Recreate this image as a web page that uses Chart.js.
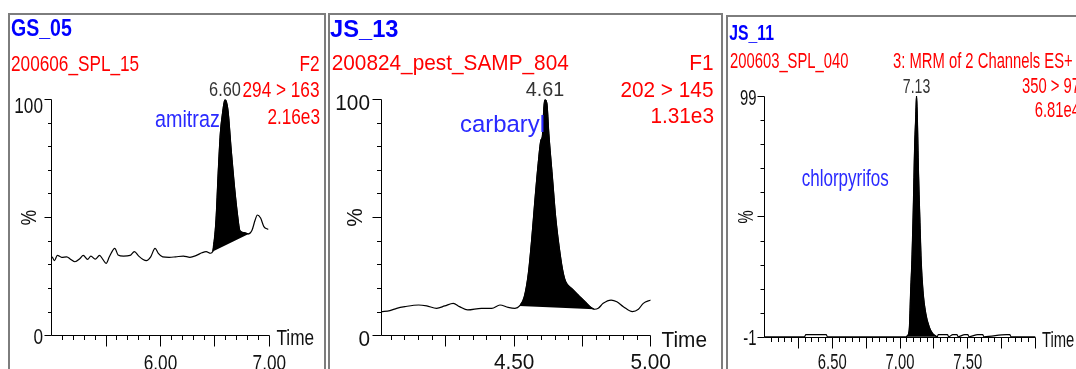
<!DOCTYPE html>
<html><head><meta charset="utf-8">
<script src="https://cdn.jsdelivr.net/npm/chart.js@4.4.1/dist/chart.umd.min.js"></script>
<style>
html,body{margin:0;padding:0;background:#fff;width:1076px;height:369px;overflow:hidden;}
#wrap{position:relative;width:1076px;height:369px;overflow:hidden;}
.box{position:absolute;border:2px solid #7d7d7d;box-sizing:border-box;}
canvas{position:absolute;left:0;top:0;}
</style></head><body>
<div id="wrap">
<div class="box" style="left:8px;top:13px;width:318px;height:420px"></div>
<div class="box" style="left:328px;top:13px;width:395px;height:420px"></div>
<div class="box" style="left:726px;top:15px;width:420px;height:420px"></div>
<canvas id="c1" width="1076" height="369"></canvas>
<canvas id="c2" width="1076" height="369"></canvas>
<canvas id="c3" width="1076" height="369"></canvas>
</div>
<script>
// ---------------- DATA ----------------
// Panel 1 : GS_05 / amitraz
const p1Time = [5.005,5.025,5.052,5.092,5.138,5.175,5.214,5.26,5.29,5.33,5.36,5.40,5.44,5.47,5.50,5.53,5.58,5.61,5.66,5.72,5.76,5.80,5.84,5.87,5.91,5.95,5.98,6.02,6.08,6.14,6.21,6.27,6.33,6.38,6.42,6.46,6.48,6.51,6.53,6.55,6.57,6.593,6.62,6.65,6.68,6.71,6.73,6.77,6.81,6.84,6.87,6.89,6.92,6.95,6.99];
const p1Int  = [33.4,31.8,34.0,33.2,33.4,32.3,31.3,32.7,34.0,32.3,33.7,32.4,34.0,32.3,30.6,33.4,37.0,34.2,33.7,34.0,35.6,33.7,32.3,31.8,33.4,37.0,34.9,33.4,33.2,33.4,33.7,33.2,34.0,35.1,35.6,34.9,35.6,49.0,68.8,85.7,94.2,100,95.5,78.6,63.1,50.4,44.5,43.6,43.1,44.5,49.0,51.1,49.8,46.2,45.0];
const p1PeakSpan = [6.48, 6.81];
const p1XTickLabels = ['6.00', '7.00'];
const p1YTickLabels = ['0', '100'];
const p1Texts = ['GS_05', '200606_SPL_15', 'F2', '294 > 163', '2.16e3'];
const p1Compound = 'amitraz';
const p1PeakLabel = '6.60';

// Panel 2 : JS_13 / carbaryl
const p2Time = [4.014,4.045,4.07,4.10,4.15,4.18,4.216,4.246,4.277,4.30,4.33,4.38,4.418,4.448,4.478,4.503,4.52,4.537,4.552,4.564,4.576,4.588,4.598,4.603,4.609,4.613,4.62,4.627,4.64,4.652,4.668,4.68,4.689,4.711,4.735,4.76,4.778,4.794,4.808,4.826,4.855,4.876,4.90,4.933,4.955,4.973,5.0];
const p2Int  = [10.2,10.6,11.6,12.3,13.0,12.6,11.6,12.6,13.7,12.3,10.9,11.6,11.6,13.0,12.0,11.6,12.6,16.5,26.4,40.5,57.4,72.9,82.8,84.2,96.9,100,98.3,85.6,67.3,50.3,34.9,26.4,22.8,20.0,17.2,14.4,12.3,11.2,11.6,13.7,15.1,14.4,12.3,10.2,11.2,13.7,15.1];
const p2PeakSpan = [4.52, 4.794];
const p2XTickLabels = ['4.50', '5.00'];
const p2YTickLabels = ['0', '100'];
const p2Texts = ['JS_13', '200824_pest_SAMP_804', 'F1', '202 > 145', '1.31e3'];
const p2Compound = 'carbaryl';
const p2PeakLabel = '4.61';

// Panel 3 : JS_11 / chlorpyrifos
const p3Time = [6.0,6.295,6.305,6.455,6.465,7.045,7.052,7.068,7.079,7.088,7.098,7.108,7.116,7.122,7.128,7.136,7.146,7.156,7.171,7.19,7.215,7.24,7.264,7.275,7.282,7.35,7.36,7.39,7.42,7.43,7.478,7.50,7.51,7.574,7.61,7.62,7.785,7.81,7.82,8.0];
const p3Int  = [-0.6,-0.6,0.3,0.3,-0.6,-0.6,-0.3,2.2,18.7,31.1,51.8,78,90,99,90,68.4,49,31.1,17.4,9.1,3.6,0.8,-0.3,-0.6,0.3,0.3,-0.6,0.3,0.3,-0.6,0.3,0.3,-0.6,0.3,0.3,-0.6,0.3,0.3,-0.6,-0.6];
const p3PeakSpan = [7.045, 7.275];
const p3XTickLabels = ['6.50', '7.00', '7.50'];
const p3YTickLabels = ['-1', '99'];
const p3Texts = ['JS_11', '200603_SPL_040', '3: MRM of 2 Channels ES+', '350 > 97', '6.81e4'];
const p3Compound = 'chlorpyrifos';
const p3PeakLabel = '7.13';

// ---------------- DRAWING ----------------
const RED = '#ff0000', BLUE = '#0000ff', BLUE2 = '#2a2aff', INK = '#111', GREY = '#333';
const SY = 1.06;
const FONT = '"Liberation Sans", Arial, sans-serif';

function drawText(ctx, s, x, y, size, color, opt) {
  opt = opt || {};
  ctx.save();
  ctx.translate(x, y);
  if (opt.rot) ctx.rotate(opt.rot);
  ctx.scale(opt.sx || 1, SY);
  ctx.font = (opt.bold ? 'bold ' : '') + size + 'px ' + FONT;
  ctx.fillStyle = color;
  ctx.textAlign = opt.align || 'left';
  ctx.textBaseline = opt.base || 'alphabetic';
  ctx.fillText(s, 0, 0);
  ctx.restore();
}

const msAxes = {
  id: 'msAxes',
  afterDraw(chart, args, o) {
    const ctx = chart.ctx, xs = chart.scales.x, ys = chart.scales.y, ca = chart.chartArea;
    const X = v => xs.getPixelForValue(v), Y = v => ys.getPixelForValue(v);
    const c = p => Math.round(p - 0.5) + 0.5;
    const L = c(ca.left), B = c(ca.bottom), T = c(ca.top), R = c(ca.right);
    ctx.save();
    ctx.strokeStyle = '#000'; ctx.lineWidth = 1;
    ctx.beginPath();
    ctx.moveTo(L, T); ctx.lineTo(L, B); ctx.lineTo(R, B);
    const nx = Math.round((xs.max - o.xStart) / o.xMinor);
    for (let i = 0; i <= nx; i++) {
      const v = o.xStart + i * o.xMinor;
      const r = v / o.xMajor;
      const maj = Math.abs(r - Math.round(r)) < 1e-6;
      const px = c(X(v));
      ctx.moveTo(px, B); ctx.lineTo(px, B + (maj ? 11 : 4.5));
    }
    const ny = Math.round((ys.max - ys.min) / o.yMinor);
    for (let i = 0; i <= ny; i++) {
      const v = ys.min + i * o.yMinor;
      const maj = o.yMajor.some(m => Math.abs(m - v) < 1e-6);
      const py = c(Y(v));
      ctx.moveTo(L, py); ctx.lineTo(L - (maj ? o.yMajLen : o.yMinLen), py);
    }
    ctx.stroke();
    ctx.restore();

    const sx = o.sx;
    o.xLabels.forEach(s => drawText(ctx, s, X(parseFloat(s)), B + o.xLabelDy, 20, INK, {sx, align: 'center'}));
    o.yLabels.forEach(s => {
      const v = parseFloat(s);
      const dy = Math.abs(v - ys.min) < 1e-6 ? o.yLabBotDy : o.yLabTopDy;
      drawText(ctx, s, L - o.yLabDx, Y(v) + dy, 20, INK, {sx, align: 'right'});
    });
    drawText(ctx, '%', L - o.pctDx, Y(o.pctVal), 20, INK, {sx, rot: -Math.PI / 2, align: 'center', base: 'middle'});
    drawText(ctx, 'Time', R + o.timeDx, B + o.timeDy, 20, INK, {sx});
    o.texts.forEach(t => drawText(ctx, t.s, t.x, t.y, t.size || 20, t.color || RED, {sx: t.sx || sx, bold: t.bold, align: t.align}));
    const pts = chart.data.datasets[1].data;
    let top = pts[0];
    pts.forEach(p => { if (p.y > top.y) top = p; });
    drawText(ctx, o.peakLabel, X(top.x), Y(top.y) - 3.5, 19, GREY, {sx, align: 'center'});
  }
};

function makeChart(id, time, inten, span, area, xr, yr, axes) {
  const pts = time.map((t, i) => ({x: t, y: inten[i]}));
  const fillPts = pts.filter(p => p.x >= span[0] - 1e-9 && p.x <= span[1] + 1e-9);
  return new Chart(document.getElementById(id), {
    type: 'line',
    data: { datasets: [
      { data: fillPts, fill: 'shape', backgroundColor: '#000', borderColor: '#000', borderWidth: 1,
        pointRadius: 0, cubicInterpolationMode: 'monotone', order: 2 },
      { data: pts, fill: false, borderColor: '#000', borderWidth: 1.2, pointRadius: 0,
        cubicInterpolationMode: 'monotone', order: 1 }
    ]},
    options: {
      responsive: false, animation: false, events: [],
      layout: { padding: { left: area.l, top: area.t, right: 1076 - area.r, bottom: 369 - area.b } },
      scales: {
        x: { type: 'linear', min: xr[0], max: xr[1], display: false },
        y: { type: 'linear', min: yr[0], max: yr[1], display: false }
      },
      plugins: { legend: { display: false }, tooltip: { enabled: false }, msAxes: axes }
    },
    plugins: [msAxes]
  });
}

makeChart('c1', p1Time, p1Int, p1PeakSpan, {l: 51.7, r: 269.3, t: 99.5, b: 335.7}, [5.0, 7.0], [0, 100], {
  xStart: 5.1, xMinor: 0.1, xMajor: 0.5, yMinor: 10, yMajor: [0, 50, 100], yMajLen: 7, yMinLen: 3.5,
  sx: 0.86, xLabels: p1XTickLabels, xLabelDy: 34, yLabels: p1YTickLabels, yLabDx: 8.5,
  yLabTopDy: 13, yLabBotDy: 8, pctDx: 21, pctVal: 50, timeDx: 7, timeDy: 9.5, peakLabel: p1PeakLabel,
  texts: [
    {s: p1Texts[0], x: 11, y: 36, size: 23, bold: true, color: BLUE, sx: 0.85},
    {s: p1Texts[1], x: 11, y: 71},
    {s: p1Texts[2], x: 319.5, y: 71, align: 'right'},
    {s: p1Texts[3], x: 319.5, y: 97, align: 'right'},
    {s: p1Texts[4], x: 320, y: 124, align: 'right'},
    {s: p1Compound, x: 155, y: 126.5, size: 23, color: BLUE2}
  ]
});

makeChart('c2', p2Time, p2Int, p2PeakSpan, {l: 381.7, r: 650.7, t: 99.5, b: 335.7}, [4.015, 5.0], [0, 100], {
  xStart: 4.05, xMinor: 0.05, xMajor: 0.25, yMinor: 10, yMajor: [0, 50, 100], yMajLen: 9, yMinLen: 4.5,
  sx: 1.04, xLabels: p2XTickLabels, xLabelDy: 33.5, yLabels: p2YTickLabels, yLabDx: 11.5,
  yLabTopDy: 10, yLabBotDy: 10, pctDx: 25, pctVal: 50, timeDx: 11, timeDy: 11, peakLabel: p2PeakLabel,
  texts: [
    {s: p2Texts[0], x: 330, y: 36.5, size: 23, bold: true, color: BLUE, sx: 1.03},
    {s: p2Texts[1], x: 331.7, y: 70},
    {s: p2Texts[2], x: 713.5, y: 70, align: 'right'},
    {s: p2Texts[3], x: 713.5, y: 97, align: 'right'},
    {s: p2Texts[4], x: 714, y: 123, align: 'right'},
    {s: p2Compound, x: 460, y: 132, size: 23, color: BLUE2}
  ]
});

makeChart('c3', p3Time, p3Int, p3PeakSpan, {l: 764.5, r: 1035.5, t: 96, b: 337.7}, [6.0, 8.0], [-1, 99], {
  xStart: 6.05, xMinor: 0.05, xMajor: 0.25, yMinor: 10, yMajor: [-1, 49, 99], yMajLen: 7, yMinLen: 4,
  sx: 0.74, xLabels: p3XTickLabels, xLabelDy: 31, yLabels: p3YTickLabels, yLabDx: 8,
  yLabTopDy: 9, yLabBotDy: 7.5, pctDx: 17, pctVal: 49, timeDx: 6.5, timeDy: 9, peakLabel: p3PeakLabel,
  texts: [
    {s: p3Texts[0], x: 729.3, y: 40, size: 21, bold: true, color: BLUE, sx: 0.75},
    {s: p3Texts[1], x: 730, y: 68},
    {s: p3Texts[2], x: 893, y: 68},
    {s: p3Texts[3], x: 1080, y: 93, align: 'right'},
    {s: p3Texts[4], x: 1080, y: 116.5, align: 'right'},
    {s: p3Compound, x: 801.7, y: 186, size: 23, color: BLUE2}
  ]
});
</script>
</body></html>
